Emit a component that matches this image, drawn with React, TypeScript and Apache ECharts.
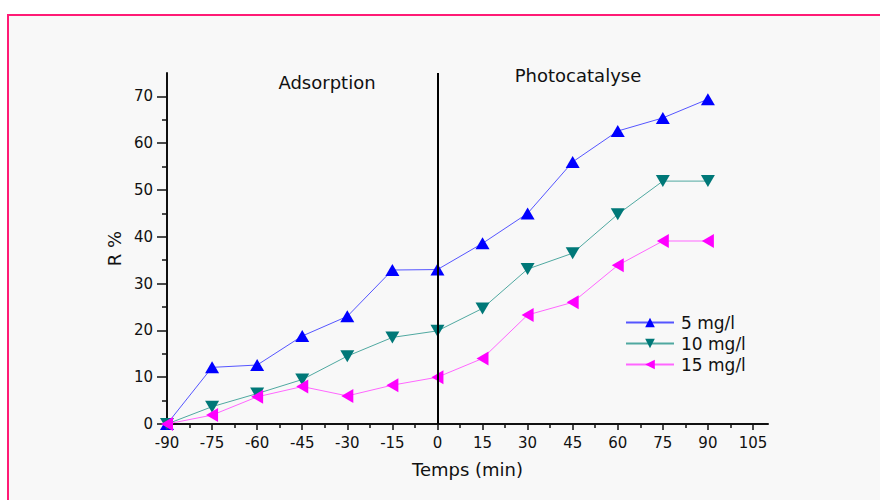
import React, { useEffect, useRef } from "react";
import * as echarts from "echarts";

const times = [-90, -75, -60, -45, -30, -15, 0, 15, 30, 45, 60, 75, 90];
const r5 = [0, 12.1, 12.6, 18.8, 23.0, 32.9, 33.0, 38.6, 45.0, 56.0, 62.6, 65.4, 69.4];
const r10 = [0, 3.7, 6.5, 9.5, 14.5, 18.5, 19.9, 24.7, 33.1, 36.5, 44.8, 51.9, 51.9];
const r15 = [0, 1.9, 5.8, 8.0, 6.0, 8.3, 10.0, 14.0, 23.3, 26.0, 33.9, 39.1, 39.1];
const xTicks = [-90, -75, -60, -45, -30, -15, 0, 15, 30, 45, 60, 75, 90, 105];
const yTicks = [0, 10, 20, 30, 40, 50, 60, 70];
const seriesNames = ["5 mg/l", "10 mg/l", "15 mg/l"];

const FONT = "DejaVu Sans, Verdana, sans-serif";

export default function App() {
  const ref = useRef<HTMLDivElement>(null);
  useEffect(() => {
    if (!ref.current) return;
    const chart = echarts.init(ref.current, null, { renderer: "svg" });
    const mk = (name: string, vals: number[], mColor: string, lColor: string, rot: number, z: number) => ({
      name,
      type: "line",
      z,
      data: times.map((t, i) => [t, vals[i]]),
      symbol: "triangle",
      symbolSize: [14, 12],
      symbolRotate: rot,
      itemStyle: { color: mColor },
      lineStyle: { color: lColor, width: 1 },
    });
    chart.setOption({
      animation: false,
      backgroundColor: "transparent",
      textStyle: { fontFamily: FONT },
      graphic: [
        {
          type: "rect",
          z: -10,
          shape: { x: 8, y: 15, width: 900, height: 500 },
          style: { fill: "#f8f8f8", stroke: "#ff1a75", lineWidth: 2 },
        },
        {
          type: "text",
          x: 327,
          y: 82,
          style: { text: "Adsorption", fontSize: 18, fontFamily: FONT, fill: "#111", align: "center", verticalAlign: "middle" },
        },
        {
          type: "text",
          x: 578,
          y: 75,
          style: { text: "Photocatalyse", fontSize: 18, fontFamily: FONT, fill: "#111", align: "center", verticalAlign: "middle" },
        },
      ],
      grid: { left: 167, right: 112, top: 73, bottom: 76, containLabel: false },
      legend: {
        orient: "vertical",
        left: 620,
        top: 309,
        itemWidth: 48,
        itemHeight: 12,
        itemGap: 4,
        data: seriesNames,
        textStyle: { fontSize: 17, fontFamily: FONT, color: "#111", padding: [0, 0, 0, 2] },
      },
      xAxis: {
        type: "value",
        min: -90,
        max: 110,
        interval: 15,
        name: "Temps (min)",
        nameLocation: "middle",
        nameGap: 36,
        nameTextStyle: { fontSize: 18, fontFamily: FONT, color: "#111" },
        axisLine: { onZero: false, lineStyle: { color: "#111", width: 2 } },
        axisTick: { show: true, length: 6, customValues: xTicks, lineStyle: { color: "#111", width: 1.5 } },
        minorTick: { show: true, splitNumber: 2, length: 4, lineStyle: { color: "#111", width: 1.5 } },
        axisLabel: { customValues: xTicks, fontSize: 15, fontFamily: FONT, color: "#111", margin: 11 },
        splitLine: { show: false },
      },
      yAxis: {
        type: "value",
        min: 0,
        max: 75,
        interval: 10,
        name: "R %",
        nameLocation: "middle",
        nameGap: 43,
        nameRotate: 90,
        nameTextStyle: { fontSize: 18, fontFamily: FONT, color: "#111" },
        axisLine: { show: true, onZero: false, lineStyle: { color: "#111", width: 2 } },
        axisTick: { show: true, length: 10, customValues: yTicks, lineStyle: { color: "#111", width: 1.5 } },
        minorTick: { show: true, splitNumber: 2, length: 5, lineStyle: { color: "#111", width: 1.5 } },
        axisLabel: { customValues: yTicks, fontSize: 15, fontFamily: FONT, color: "#111", margin: 14 },
        splitLine: { show: false },
      },
      series: [
        {
          ...mk(seriesNames[0], r5, "#0000ff", "#5555ff", 0, 2),
          markLine: {
            silent: true,
            symbol: "none",
            label: { show: false },
            lineStyle: { color: "#000", width: 2, type: "solid" },
            data: [{ xAxis: 0 }],
          },
        },
        mk(seriesNames[1], r10, "#007878", "#4fa8a0", 180, 3),
        mk(seriesNames[2], r15, "#ff00ff", "#ff66ff", 90, 4),
      ],
    });
    return () => chart.dispose();
  }, []);
  return <div ref={ref} style={{ position: "absolute", left: 0, top: 0, width: 880, height: 500 }} />;
}
